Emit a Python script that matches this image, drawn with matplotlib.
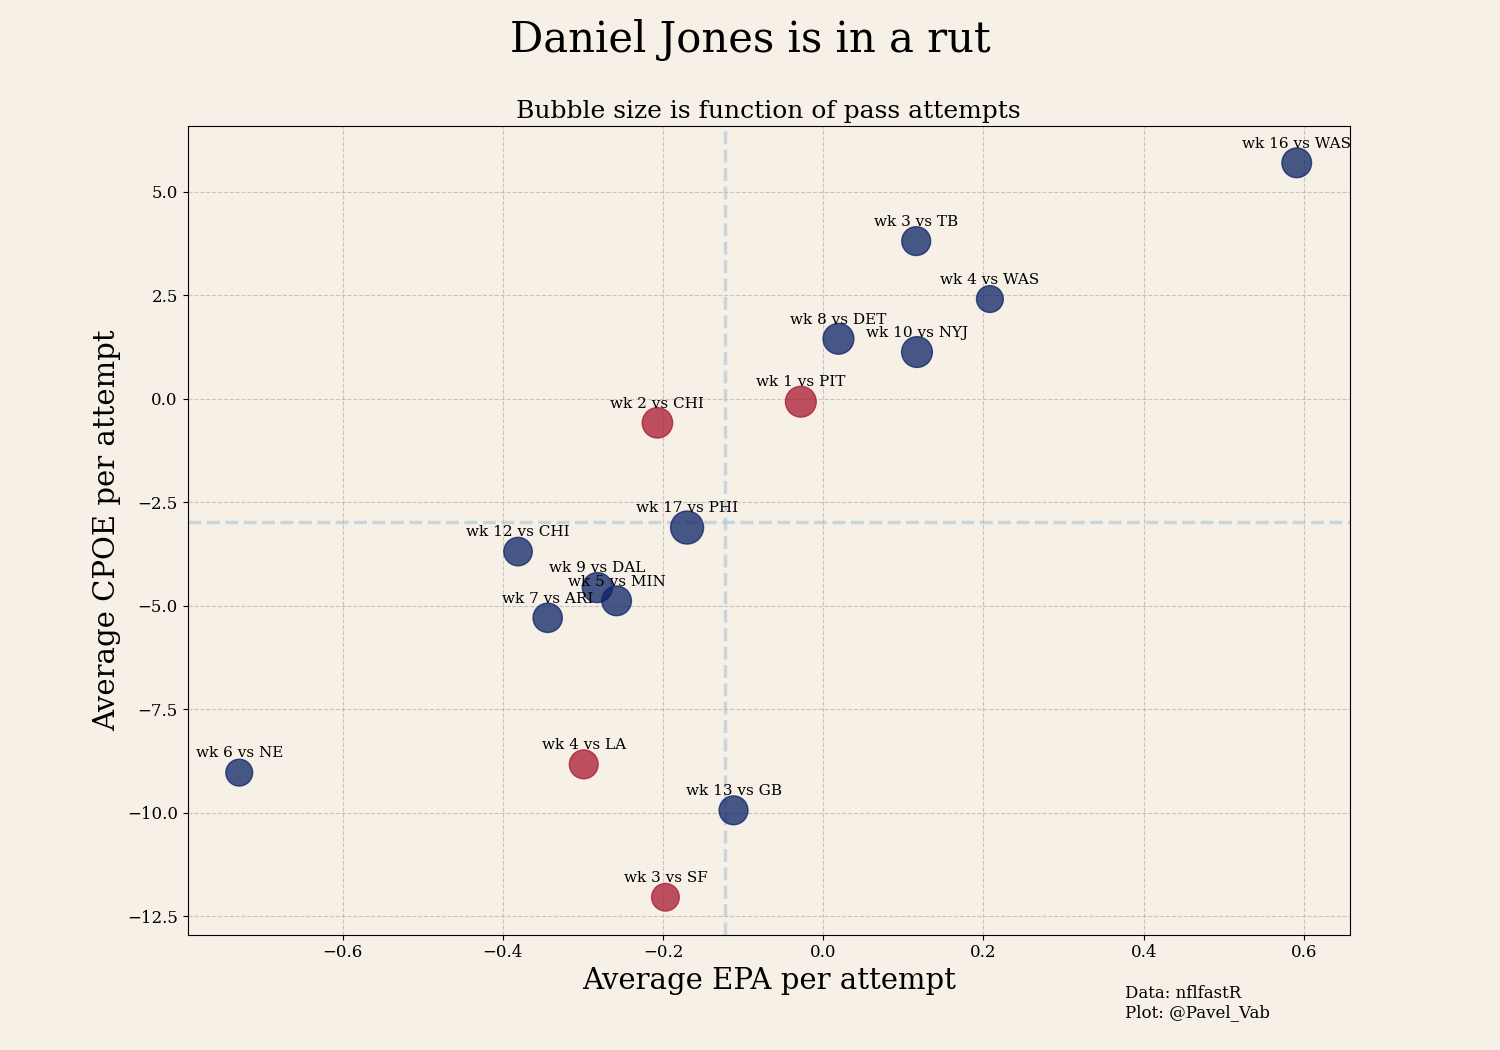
import matplotlib.pyplot as plt

# games (2019 season in blue, 2020 in red)
games = ['wk 1 vs PIT', 'wk 2 vs CHI', 'wk 3 vs SF', 'wk 4 vs LA',
         'wk 3 vs TB', 'wk 4 vs WAS', 'wk 5 vs MIN', 'wk 6 vs NE',
         'wk 7 vs ARI', 'wk 8 vs DET', 'wk 9 vs DAL', 'wk 10 vs NYJ',
         'wk 12 vs CHI', 'wk 13 vs GB', 'wk 16 vs WAS', 'wk 17 vs PHI']
epa = [-0.028, -0.207, -0.197, -0.299,
       0.116, 0.208, -0.258, -0.729,
       -0.344, 0.019, -0.282, 0.117,
       -0.381, -0.112, 0.591, -0.170]
cpoe = [-0.07, -0.58, -12.04, -8.83,
        3.81, 2.41, -4.88, -9.03,
        -5.29, 1.45, -4.56, 1.13,
        -3.69, -9.94, 5.70, -3.11]
attempts = [41, 40, 33, 36,
            36, 31, 38, 31,
            37, 41, 39, 41,
            35, 36, 38, 47]
season = [2020] * 4 + [2019] * 12

colors = {2019: '#0b2265', 2020: '#a71930'}
bg = '#f6f0e7'

plt.rcParams['font.family'] = 'DejaVu Serif'

fig, ax = plt.subplots(figsize=(15, 10.5), dpi=100)
fig.patch.set_facecolor(bg)
ax.set_facecolor(bg)
fig.subplots_adjust(left=0.125, right=0.9, top=0.88, bottom=0.11)

ax.scatter(epa, cpoe, s=[a * 12 for a in attempts],
           c=[colors[s] for s in season], alpha=0.75, zorder=3)

for name, x, y in zip(games, epa, cpoe):
    ax.annotate(name, (x, y), xytext=(0, 11), textcoords='offset points',
                ha='center', fontsize=11, zorder=4)

ax.axvline(sum(epa) / len(epa), color='#a9c6d6', linestyle='--', lw=2.5, alpha=0.6, zorder=2)
ax.axhline(sum(cpoe) / len(cpoe), color='#a9c6d6', linestyle='--', lw=2.5, alpha=0.6, zorder=2)

ax.grid(linestyle='--', color='#b3b0ad', alpha=0.7, zorder=0)
ax.set_xlim(-0.7936, 0.6575)
ax.set_ylim(-12.94, 6.59)
ax.tick_params(labelsize=12)

ax.set_xlabel('Average EPA per attempt', fontsize=21)
ax.set_ylabel('Average CPOE per attempt', fontsize=21)
ax.set_title('Bubble size is function of pass attempts', fontsize=18)
fig.suptitle('Daniel Jones is in a rut', fontsize=30, y=0.962, va='center')

fig.text(0.75, 0.031, 'Data: nflfastR\nPlot: @Pavel_Vab', fontsize=12)

plt.savefig('out.png', facecolor=bg)
